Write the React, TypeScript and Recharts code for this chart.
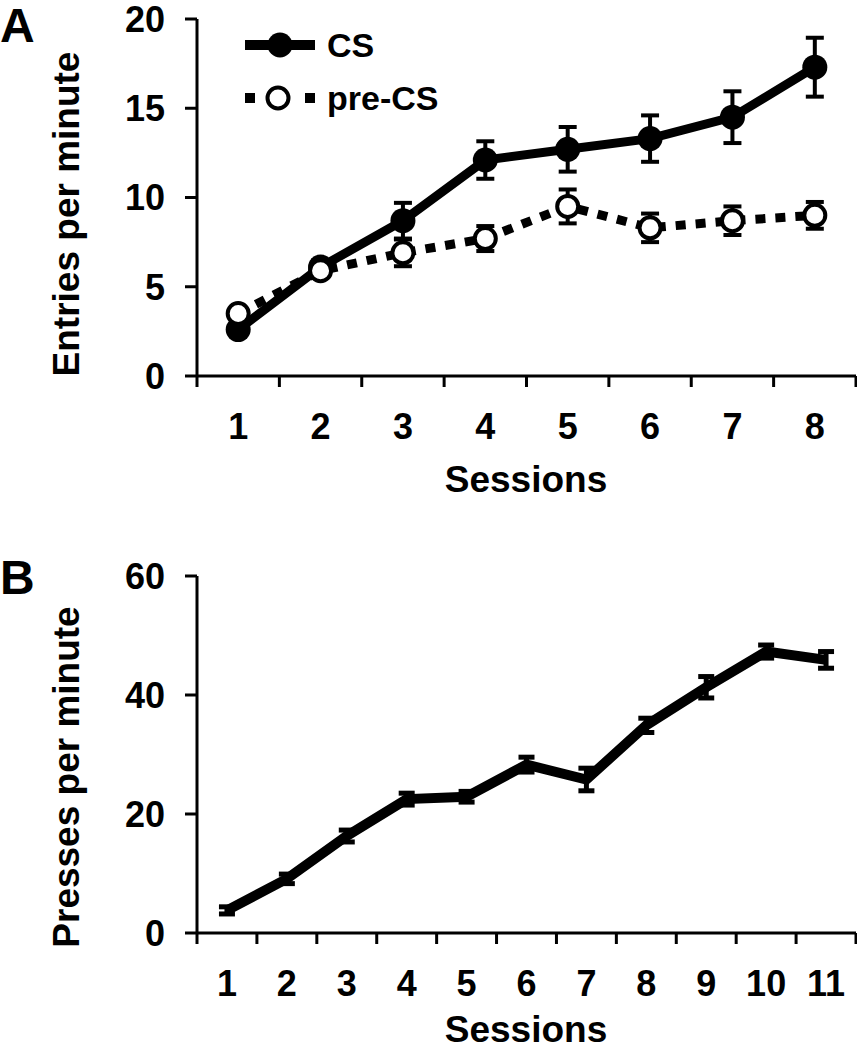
import React from 'react';
import { LineChart, Line, XAxis, YAxis, ErrorBar, Legend } from 'recharts';

// ---------- data ----------
const sessionsA = [1, 2, 3, 4, 5, 6, 7, 8];
const csMean = [2.6, 6.1, 8.7, 12.1, 12.7, 13.3, 14.5, 17.3];
const csSem = [0.2, 0.4, 1.0, 1.05, 1.25, 1.3, 1.45, 1.65];
const preMean = [3.5, 5.9, 6.9, 7.7, 9.5, 8.3, 8.7, 9.0];
const preSem = [0.2, 0.3, 0.75, 0.7, 0.95, 0.8, 0.8, 0.75];
const yTicksA = [0, 5, 10, 15, 20];

const sessionsB = [1, 2, 3, 4, 5, 6, 7, 8, 9, 10, 11];
const pressMean = [3.8, 9.1, 16.3, 22.5, 22.9, 28.3, 25.8, 34.9, 41.3, 47.3, 45.9];
const pressSem = [0.6, 0.8, 1.0, 1.0, 0.9, 1.25, 1.9, 1.2, 1.8, 1.1, 1.4];
const yTicksB = [0, 20, 40, 60];

const seriesNames = ['CS', 'pre-CS'];

// ---------- tables ----------
const dataA = sessionsA.map((s, i) => ({
  session: s,
  cs: csMean[i],
  csErr: csSem[i],
  pre: preMean[i],
  preErr: preSem[i],
}));
const dataB = sessionsB.map((s, i) => ({ session: s, press: pressMean[i], pressErr: pressSem[i] }));

const withBoundaries = (arr: number[]) => {
  const out: number[] = [];
  arr.forEach((s) => {
    out.push(s - 0.5);
    out.push(s);
  });
  out.push(arr[arr.length - 1] + 0.5);
  return out;
};

// ---------- style ----------
const FONT = '"Liberation Sans", Arial, Helvetica, sans-serif';
const TICK_FS = 36;
const TITLE_FS = 37;
const AXIS_W = 3;
const X_TICK_LEN = 11;
const X_LABEL_DY = 52;

const XTick = (props: any) => {
  const { x, y, payload } = props;
  const v = payload.value;
  if (Number.isInteger(v)) {
    return (
      <text
        x={x}
        y={y + X_LABEL_DY}
        textAnchor="middle"
        fill="#000"
        fontSize={TICK_FS}
        fontWeight="bold"
        fontFamily={FONT}
      >
        {v}
      </text>
    );
  }
  return <line x1={x} x2={x} y1={y - X_TICK_LEN} y2={y} stroke="#000" strokeWidth={AXIS_W} />;
};

const yTickStyle = { fill: '#000', fontSize: TICK_FS, fontWeight: 'bold', fontFamily: FONT } as any;

const LegendContent = (props: any) => {
  const payload = props.payload || [];
  const names = payload.length ? payload.map((p: any) => p.value) : seriesNames;
  return (
    <svg width={230} height={115} style={{ overflow: 'visible' }}>
      <line x1={5} x2={75} y1={25} y2={25} stroke="#000" strokeWidth={10} />
      <circle cx={40} cy={25} r={12.5} fill="#000" />
      <text x={87} y={37} fontSize={34} fontWeight="bold" fontFamily={FONT} fill="#000">
        {names[0]}
      </text>
      <line x1={5} x2={75} y1={78} y2={78} stroke="#000" strokeWidth={10} strokeDasharray="10 50" />
      <circle cx={38} cy={78} r={10.5} fill="#fff" stroke="#000" strokeWidth={4} />
      <text x={87} y={90} fontSize={34} fontWeight="bold" fontFamily={FONT} fill="#000">
        {names[1]}
      </text>
    </svg>
  );
};

export default function App() {
  return (
    <div style={{ position: 'absolute', left: 0, top: 0, width: 857, height: 1050, background: '#fff' }}>
      {/* Panel A */}
      <div style={{ position: 'absolute', left: 0, top: 0 }}>
        <LineChart width={857} height={520} data={dataA} margin={{ top: 19, right: 1, bottom: 0, left: 0 }}>
          <XAxis
            dataKey="session"
            type="number"
            domain={[0.5, 8.5]}
            ticks={withBoundaries(sessionsA)}
            interval={0}
            height={144}
            tickLine={false}
            tickSize={X_TICK_LEN}
            tickMargin={0}
            axisLine={{ stroke: '#000', strokeWidth: AXIS_W }}
            tick={<XTick />}
          />
          <YAxis
            type="number"
            domain={[0, 20]}
            ticks={yTicksA}
            interval={0}
            width={197}
            tickSize={12}
            tickMargin={20}
            axisLine={{ stroke: '#000', strokeWidth: AXIS_W }}
            tickLine={{ stroke: '#000', strokeWidth: AXIS_W }}
            tick={yTickStyle}
          />
          <Legend
            layout="vertical"
            align="center"
            verticalAlign="middle"
            wrapperStyle={{ left: 240, top: 20, width: 230, height: 115 }}
            content={<LegendContent />}
          />
          <Line
            name={seriesNames[0]}
            dataKey="cs"
            type="linear"
            stroke="#000"
            strokeWidth={9}
            dot={{ r: 12.5, fill: '#000', stroke: '#000', strokeWidth: 0 }}
            activeDot={false}
            isAnimationActive={false}
          >
            <ErrorBar dataKey="csErr" width={9} strokeWidth={4} stroke="#000" direction="y" isAnimationActive={false} />
          </Line>
          <Line
            name={seriesNames[1]}
            dataKey="pre"
            type="linear"
            stroke="#000"
            strokeWidth={9}
            strokeDasharray="10 10"
            dot={{ r: 10.5, fill: '#fff', stroke: '#000', strokeWidth: 4, strokeDasharray: 'none' }}
            activeDot={false}
            isAnimationActive={false}
          >
            <ErrorBar dataKey="preErr" width={9} strokeWidth={4} stroke="#000" direction="y" isAnimationActive={false} />
          </Line>
        </LineChart>
      </div>

      {/* Panel B */}
      <div style={{ position: 'absolute', left: 0, top: 520 }}>
        <LineChart width={857} height={530} data={dataB} margin={{ top: 56, right: 1, bottom: 0, left: 0 }}>
          <XAxis
            dataKey="session"
            type="number"
            domain={[0.5, 11.5]}
            ticks={withBoundaries(sessionsB)}
            interval={0}
            height={117}
            tickLine={false}
            tickSize={X_TICK_LEN}
            tickMargin={0}
            axisLine={{ stroke: '#000', strokeWidth: AXIS_W }}
            tick={<XTick />}
          />
          <YAxis
            type="number"
            domain={[0, 60]}
            ticks={yTicksB}
            interval={0}
            width={197}
            tickSize={12}
            tickMargin={20}
            axisLine={{ stroke: '#000', strokeWidth: AXIS_W }}
            tickLine={{ stroke: '#000', strokeWidth: AXIS_W }}
            tick={yTickStyle}
          />
          <Line
            dataKey="press"
            type="linear"
            stroke="#000"
            strokeWidth={10}
            dot={false}
            activeDot={false}
            isAnimationActive={false}
          >
            <ErrorBar dataKey="pressErr" width={8} strokeWidth={5} stroke="#000" direction="y" isAnimationActive={false} />
          </Line>
        </LineChart>
      </div>

      {/* Titles and panel letters */}
      <svg
        width={857}
        height={1050}
        style={{ position: 'absolute', left: 0, top: 0, pointerEvents: 'none' }}
      >
        <g fontFamily={FONT} fontWeight="bold" fill="#000">
          <text x={0} y={42} fontSize={48}>A</text>
          <text x={0} y={594} fontSize={48}>B</text>
          <text x={79} y={214} fontSize={TITLE_FS} textAnchor="middle" transform="rotate(-90, 79, 214)">
            Entries per minute
          </text>
          <text x={79} y={777} fontSize={TITLE_FS} textAnchor="middle" transform="rotate(-90, 79, 777)">
            Presses per minute
          </text>
          <text x={526} y={492} fontSize={TITLE_FS} textAnchor="middle">Sessions</text>
          <text x={526} y={1042} fontSize={TITLE_FS} textAnchor="middle">Sessions</text>
        </g>
      </svg>
    </div>
  );
}
